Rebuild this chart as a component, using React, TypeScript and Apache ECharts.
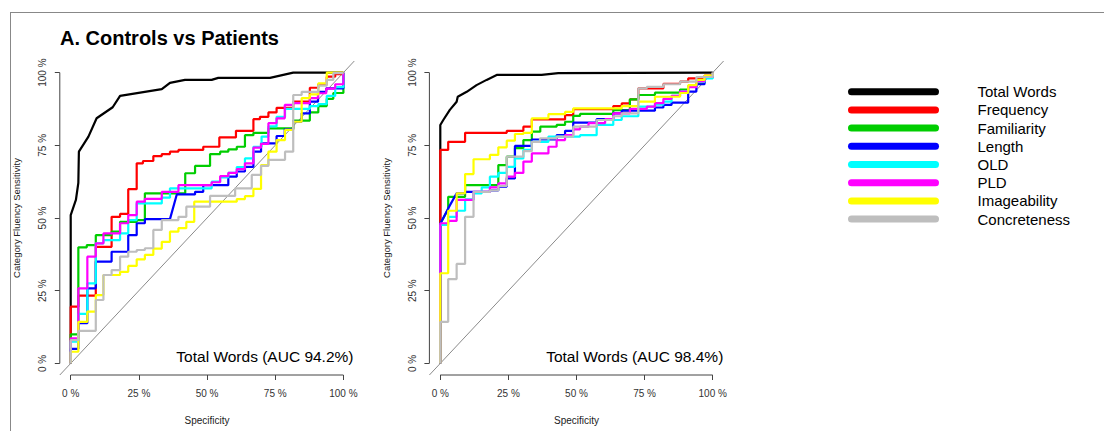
import React, { useEffect, useRef } from "react";
import * as echarts from "echarts";

// ---------- data ----------
const seriesNames = ["Total Words", "Frequency", "Familiarity", "Length", "OLD", "PLD", "Imageability", "Concreteness"];
const seriesColors = ["#000000", "#FF0000", "#00CD00", "#0000FF", "#00FFFF", "#FF00FF", "#FFFF00", "#BEBEBE"];
const tickValues = [0, 25, 50, 75, 100];
const panelAUC = ["Total Words (AUC 94.2%)", "Total Words (AUC 98.4%)"];
const chartTitle = "A. Controls vs Patients";
const xAxisTitle = "Specificity";
const yAxisTitle = "Category Fluency Sensitivity";

// Left panel (x = specificity %, y = sensitivity %)
const leftTotalWords = [[0,0],[0,51],[1.9,56.2],[2.8,62.1],[3,72.8],[6.5,78],[9.5,84.3],[15.4,88.1],[18.1,92],[33.4,94.3],[36.4,96.5],[41.9,97.5],[51.7,97.5],[54.1,98.2],[73.1,98.2],[81.6,100],[100,100]];
const leftFrequency = [[0,0],[0,19.5],[2.8,19.5],[2.8,23.3],[9.2,23.3],[9.2,40.1],[15,40.1],[15,50.4],[18.1,50.4],[18.1,51.4],[21.1,51.4],[21.1,59.9],[24.2,59.9],[24.2,68.8],[26.5,68.8],[26.5,69.6],[30.3,69.6],[30.3,71.3],[33.4,71.3],[33.4,72],[36.4,72],[36.4,72.8],[39.5,72.8],[39.5,73.4],[48.6,73.4],[48.6,74.5],[54.5,74.5],[54.5,77.7],[60.6,77.7],[60.6,80],[67,80],[67,84],[69.4,84],[69.4,84.8],[72.5,84.8],[72.5,86.3],[75.5,86.3],[75.5,87.9],[81.6,87.9],[81.6,90],[87.7,90],[87.7,94.8],[90.8,94.8],[90.8,96],[93.9,96],[93.9,98.6],[97,98.6],[97,99.5],[100,99.5],[100,100]];
const leftFamiliarity = [[0,0],[0,10],[2.8,10],[2.8,39.9],[5.9,39.9],[5.9,40.7],[9.2,40.7],[9.2,44.1],[15,44.1],[15,45.3],[18.1,45.3],[18.1,48.7],[24.2,48.7],[24.2,49.3],[27.2,49.3],[27.2,58.5],[42,58.5],[42,65.4],[45.6,65.4],[45.6,67.9],[51.1,67.9],[51.1,72],[54.8,72],[54.8,72.8],[57.8,72.8],[57.8,73.6],[60.9,73.6],[60.9,74.5],[63.9,74.5],[63.9,78.5],[67,78.5],[67,79.3],[72.5,79.3],[72.5,80.8],[81.6,80.8],[81.6,83.5],[87.7,83.5],[87.7,86.3],[90.8,86.3],[90.8,88.5],[93.9,88.5],[93.9,91],[96.3,91],[96.3,93],[100,93],[100,100]];
const leftLength = [[0,0],[0,5],[2.8,5],[2.8,13.8],[6.1,13.8],[6.1,25.8],[9.2,25.8],[9.2,35],[15,35],[15,38.4],[21.1,38.4],[21.1,44.1],[24.2,44.1],[24.2,48.2],[27.2,48.2],[27.2,49.6],[36.4,49.6],[38.9,58.1],[45.6,58.1],[45.6,59],[48.6,59],[48.6,61.3],[57.8,61.3],[57.8,64.2],[60.9,64.2],[60.9,66],[63.9,66],[63.9,67.6],[67,67.6],[67,72.8],[69.8,72.8],[69.8,75.7],[75.5,75.7],[75.5,78.2],[78.5,78.2],[78.5,80.5],[81.6,80.5],[81.6,83.1],[84.7,83.1],[84.7,86],[87.7,86],[87.7,90],[90.7,90],[90.7,93.4],[93.7,93.4],[93.7,94.6],[100,94.6],[100,100]];
const leftOLD = [[0,0],[0,7.5],[2.8,7.5],[2.8,17],[6.1,17],[6.1,27.5],[9.2,27.5],[9.2,41.3],[12,41.3],[12,42.4],[18.1,42.4],[18.1,44.7],[21.1,44.7],[21.1,49.3],[24.2,49.3],[24.2,55],[33.4,55],[33.4,57],[36.4,57],[36.4,60.2],[51.7,60.2],[51.7,62.5],[54.8,62.5],[54.8,64],[57.8,64],[57.8,65.5],[60.9,65.5],[60.9,67.5],[63.9,67.5],[63.9,70.5],[67,70.5],[67,74.5],[70,74.5],[70,78],[72.5,78],[72.5,81.5],[75.5,81.5],[75.5,84.8],[78.6,84.8],[78.6,87.5],[87.7,87.5],[87.7,88.5],[90.8,88.5],[90.8,89.2],[93.9,89.2],[93.9,92],[97,92],[97,95],[100,95],[100,100]];
const leftPLD = [[0,0],[0,8.6],[2.8,8.6],[2.8,25.8],[6.1,25.8],[6.1,36.7],[9.2,36.7],[9.2,41.3],[12,41.3],[12,44.7],[18.1,44.7],[18.1,48.2],[21.1,48.2],[21.1,51],[24.2,51],[24.2,55.6],[27.2,55.6],[27.2,56.6],[33.4,56.6],[33.4,59],[39.5,59],[39.5,61.3],[51.7,61.3],[51.7,62.3],[54.8,62.3],[54.8,64.4],[57.8,64.4],[57.8,65.5],[60.9,65.5],[60.9,66.8],[63.9,66.8],[63.9,68.8],[67,68.8],[67,74.2],[69.8,74.2],[69.8,75.5],[72.5,75.5],[72.5,82.6],[75.5,82.6],[75.5,84.3],[78.5,84.3],[78.5,88.9],[81.6,88.9],[81.6,89.5],[87.7,89.5],[87.7,91.2],[90.7,91.2],[90.7,92.9],[93.7,92.9],[93.7,94.5],[97,94.5],[97,96],[100,96],[100,100]];
const leftImageability = [[0,0],[0,4],[2.8,4],[2.8,14.3],[6.1,14.3],[6.1,17.8],[9.2,17.8],[9.2,23.5],[12,23.5],[12,30.4],[18.1,30.4],[18.1,31.5],[21.1,31.5],[21.1,33.5],[24.2,33.5],[24.2,35.8],[27.2,35.8],[27.2,37.3],[30.3,37.3],[30.3,39.5],[33.4,39.5],[33.4,41.8],[36.4,41.8],[36.4,45.3],[39.5,45.3],[39.5,46.5],[42.4,46.5],[42.4,48.7],[45.3,48.7],[45.3,55.6],[60.9,55.6],[60.9,56.5],[63.9,56.5],[63.9,57.5],[67,57.5],[67,60],[69.8,60],[69.8,68.2],[72.5,68.2],[72.5,72.8],[75.5,72.8],[75.5,76.8],[78.6,76.8],[78.6,80.3],[81.6,80.3],[81.6,83.1],[84.7,83.1],[84.7,91.2],[87.7,91.2],[87.7,92.5],[90.8,92.5],[90.8,96.3],[93.9,96.3],[93.9,100],[100,100]];
const leftConcreteness = [[0,0],[0,8],[2.8,8],[2.8,11.2],[9.2,11.2],[9.2,21.8],[12,21.8],[12,30.4],[15,30.4],[15,32.1],[18.1,32.1],[18.1,36.7],[21.1,36.7],[21.1,38.4],[24.2,38.4],[24.2,39],[27.2,39],[27.2,39.6],[30.3,39.6],[30.3,45.9],[33.4,45.9],[33.4,49.3],[39.5,49.3],[39.5,50.4],[42.4,50.4],[42.4,53.9],[51.1,53.9],[51.1,57.6],[60.3,57.6],[60.3,60.2],[66.4,60.2],[66.4,64.8],[69.8,64.8],[69.8,67.9],[72.5,67.9],[72.5,70],[78.6,70],[78.6,72.8],[81.6,72.8],[81.6,92.3],[84.7,92.3],[84.7,93.4],[90.8,93.4],[90.8,95.5],[93.9,95.5],[93.9,97.5],[96.3,97.5],[96.3,99.8],[100,99.8],[100,100]];

// Right panel
const rightTotalWords = [[0,0],[0,82],[1.1,83.7],[3.5,87.2],[6,90],[6.4,91.7],[9.7,93.4],[13.3,95.7],[17,97.5],[20.7,99.2],[37.2,99.2],[43.3,99.8],[100,100]];
const rightFrequency = [[0,0],[0,73.4],[2.9,73.4],[2.9,76.2],[9.1,76.2],[9.1,79.3],[24.4,79.3],[24.4,80],[30.5,80],[30.5,81.4],[33.6,81.4],[33.6,83.9],[45.8,83.9],[45.8,85.4],[48.8,85.4],[48.8,87.4],[63.5,87.4],[63.5,88.5],[66.6,88.5],[66.6,89.4],[69.6,89.4],[69.6,90.8],[72.7,90.8],[72.7,94.6],[81.9,94.6],[81.9,96.1],[88,96.1],[88,96.9],[91,96.9],[91,98],[97,98],[97,99],[100,99],[100,100]];
const rightFamiliarity = [[0,0],[0,48],[2.9,53],[2.9,57.3],[9.1,57.3],[9.1,61.3],[21.3,61.3],[21.3,68.2],[24.4,68.2],[24.4,71.1],[27.4,71.1],[27.4,74],[30.5,74],[30.5,76.8],[33.6,76.8],[33.6,79.7],[36.7,79.7],[36.7,81.4],[42.7,81.4],[42.7,82],[45.8,82],[45.8,83.1],[48.8,83.1],[48.8,85.1],[51.3,85.1],[51.3,85.8],[63.5,85.8],[63.5,87.1],[69.6,87.1],[69.6,90.8],[72.7,90.8],[72.7,92.3],[78.8,92.3],[78.8,93.1],[88,93.1],[88,94.2],[91,94.2],[91,95.4],[94.1,95.4],[94.1,96.5],[97,96.5],[97,98.5],[100,98.5],[100,100]];
const rightLength = [[0,0],[0,48],[2.9,53.3],[6,58.5],[9.1,58.5],[9.1,59],[18.2,59],[18.2,59.5],[21.3,59.5],[21.3,60.8],[24.4,60.8],[24.4,63.6],[27.4,63.6],[27.4,74.8],[33.6,74.8],[33.6,77],[42.7,77],[42.7,78.5],[45.8,78.5],[45.8,80],[48.8,80],[48.8,82.8],[57.4,82.8],[57.4,84],[63.5,84],[63.5,86],[66.6,86],[66.6,86.9],[78.8,86.9],[78.8,88],[81.9,88],[81.9,88.9],[84.9,88.9],[84.9,89.7],[91,89.7],[91,93.5],[94,93.5],[94,96],[97,96],[97,98.5],[100,98.5],[100,100]];
const rightOLD = [[0,0],[0,47.6],[2.9,47.6],[2.9,50.4],[6,50.4],[6,52.5],[9.1,52.5],[9.1,56.4],[12.2,56.4],[12.2,58.5],[15.2,58.5],[15.2,60.5],[18.2,60.5],[18.2,64.2],[21.3,64.2],[21.3,65.5],[24.4,65.5],[24.4,67.6],[27.4,67.6],[27.4,70.5],[30.5,70.5],[30.5,73.4],[33.6,73.4],[33.6,76.2],[39.7,76.2],[39.7,78],[51.3,78],[51.3,78.5],[57.4,78.5],[57.4,82],[63.5,82],[63.5,83.7],[66.6,83.7],[66.6,85],[72.7,85],[72.7,88.3],[78.8,88.3],[78.8,89],[81.9,89],[81.9,90],[84.9,90],[84.9,92],[88,92],[88,93.5],[91,93.5],[91,95.1],[94,95.1],[94,96.8],[97,96.8],[97,98],[100,98],[100,100]];
const rightPLD = [[0,0],[0,48.2],[2.9,48.2],[2.9,49],[6,49],[6,56.2],[12.2,56.2],[12.2,59],[18.2,59],[18.2,60.5],[21.3,60.5],[21.3,61.9],[24.4,61.9],[24.4,64.2],[27.4,64.2],[27.4,65.5],[30.5,65.5],[30.5,69.4],[33.6,69.4],[33.6,72.2],[39.7,72.2],[39.7,74.5],[42.7,74.5],[42.7,76.8],[45.8,76.8],[45.8,78.5],[48.8,78.5],[48.8,80.5],[51.3,80.5],[51.3,81.4],[54.4,81.4],[54.4,82.6],[60.5,82.6],[60.5,84],[63.5,84],[63.5,86],[69.6,86],[69.6,87.5],[75.8,87.5],[75.8,88.3],[78.8,88.3],[78.8,89.5],[81.9,89.5],[81.9,91],[84.9,91],[84.9,92],[88,92],[88,93.5],[91,93.5],[91,95],[94,95],[94,97],[97,97],[97,98.5],[100,98.5],[100,100]];
const rightImageability = [[0,0],[0,31],[2.9,31],[2.9,52.5],[6,52.5],[6,58.5],[9.1,58.5],[9.1,65.1],[12.2,65.1],[12.2,70.2],[18.2,70.2],[18.2,71.7],[21.3,71.7],[21.3,74.3],[24.4,74.3],[24.4,76.6],[27.4,76.6],[27.4,78.9],[30.5,78.9],[30.5,79.3],[33.6,79.3],[33.6,84.3],[39.7,84.3],[39.7,85.7],[45.8,85.7],[45.8,86.5],[48.8,86.5],[48.8,87.7],[66.6,87.7],[66.6,88.5],[72.7,88.5],[72.7,90],[78.8,90],[78.8,91.7],[88,91.7],[88,93],[91,93],[91,95.7],[94,95.7],[94,97.5],[97,97.5],[97,99],[100,99],[100,100]];
const rightConcreteness = [[0,0],[0,14.3],[2.9,14.3],[2.9,29],[6,29],[6,34.2],[9.1,34.2],[9.1,50.4],[12.2,50.4],[12.2,59],[18.2,59],[18.2,59.5],[21.3,59.5],[21.3,61],[24.4,61],[24.4,71.1],[30.5,71.1],[30.5,73],[33.6,73],[33.6,76.2],[36.6,76.2],[36.6,77.4],[42.7,77.4],[42.7,78],[48.8,78],[48.8,81.4],[57.4,81.4],[57.4,83.7],[63.5,83.7],[63.5,85],[66.6,85],[66.6,86],[72.7,86],[72.7,94.6],[75.8,94.6],[75.8,95.1],[81.9,95.1],[81.9,96],[88,96],[88,96.9],[94,96.9],[94,98.5],[100,98.5],[100,100]];

const leftCurves = [leftTotalWords, leftFrequency, leftFamiliarity, leftLength, leftOLD, leftPLD, leftImageability, leftConcreteness];
const rightCurves = [rightTotalWords, rightFrequency, rightFamiliarity, rightLength, rightOLD, rightPLD, rightImageability, rightConcreteness];

const FONT = "'Liberation Sans', Arial, Helvetica, sans-serif";
const AXIS_COLOR = "#444";

export default function App() {
  const ref = useRef<HTMLDivElement>(null);

  useEffect(() => {
    if (!ref.current) return;
    const chart = echarts.init(ref.current, null, { renderer: "svg" });

    const grids = [
      { left: 59.8, top: 61, width: 294.5, height: 314 },
      { left: 429.4, top: 61, width: 294.2, height: 314 },
    ];

    const mkX = (i: number) => ({
      type: "value",
      gridIndex: i,
      min: -4,
      max: 104,
      axisLine: { show: false, onZero: false },
      splitLine: { show: false },
      axisTick: { show: true, customValues: tickValues, length: 5, lineStyle: { color: AXIS_COLOR, width: 1 } },
      axisLabel: {
        customValues: tickValues,
        formatter: (v: number) => `${v} %`,
        margin: 13,
        fontSize: 10,
        color: "#333",
        fontFamily: FONT,
      },
      name: xAxisTitle,
      nameLocation: "middle",
      nameGap: 40,
      nameTextStyle: { fontSize: 10, color: "#222", fontFamily: FONT },
    });
    const mkY = (i: number) => ({
      type: "value",
      gridIndex: i,
      min: -4,
      max: 104,
      axisLine: { show: false, onZero: false },
      splitLine: { show: false },
      axisTick: { show: true, customValues: tickValues, length: 5, lineStyle: { color: AXIS_COLOR, width: 1 } },
      axisLabel: {
        customValues: tickValues,
        formatter: (v: number) => `${v} %`,
        rotate: 90,
        margin: 12,
        fontSize: 10,
        color: "#333",
        fontFamily: FONT,
      },
      name: yAxisTitle,
      nameLocation: "middle",
      nameGap: 38,
      nameRotate: 90,
      nameTextStyle: { fontSize: 9.5, color: "#222", fontFamily: FONT },
    });

    const series: any[] = [];
    [0, 1].forEach((p) => {
      series.push({
        type: "line", xAxisIndex: p, yAxisIndex: p, silent: true, clip: false, symbol: "none",
        data: [[tickValues[0], -4], [tickValues[tickValues.length - 1], -4]],
        lineStyle: { color: AXIS_COLOR, width: 1 },
      });
      series.push({
        type: "line", xAxisIndex: p, yAxisIndex: p, silent: true, clip: false, symbol: "none",
        data: [[-4, tickValues[0]], [-4, tickValues[tickValues.length - 1]]],
        lineStyle: { color: AXIS_COLOR, width: 1 },
      });
      series.push({
        type: "line", xAxisIndex: p, yAxisIndex: p, silent: true, clip: false, symbol: "none",
        data: [[-4, -4], [104, 104]],
        lineStyle: { color: "#8a8a8a", width: 1 },
      });
      const curves = p === 0 ? leftCurves : rightCurves;
      curves.forEach((c, k) => {
        series.push({
          name: seriesNames[k],
          type: "line",
          xAxisIndex: p,
          yAxisIndex: p,
          symbol: "none",
          data: c,
          lineStyle: { color: seriesColors[k], width: 2.2 },
          itemStyle: { color: seriesColors[k] },
        });
      });
    });

    const graphic: any[] = [
      { type: "line", shape: { x1: 10, y1: 12.5, x2: 1104, y2: 12.5 }, style: { stroke: "#888", lineWidth: 1 } },
      { type: "line", shape: { x1: 10.5, y1: 12, x2: 10.5, y2: 431 }, style: { stroke: "#888", lineWidth: 1 } },
      {
        type: "text", x: 60, y: 38,
        style: { text: chartTitle, font: `bold 20px ${FONT}`, fill: "#000", textVerticalAlign: "middle" },
      },
      {
        type: "text", x: 353.5, y: 356,
        style: { text: panelAUC[0], font: `15.5px ${FONT}`, fill: "#000", textAlign: "right", textVerticalAlign: "middle" },
      },
      {
        type: "text", x: 723.3, y: 356,
        style: { text: panelAUC[1], font: `15.5px ${FONT}`, fill: "#000", textAlign: "right", textVerticalAlign: "middle" },
      },
    ];
    seriesNames.forEach((n, k) => {
      const y = 91.7 + k * 18.2;
      graphic.push({
        type: "line",
        shape: { x1: 851.5, y1: y, x2: 935.5, y2: y },
        style: { stroke: seriesColors[k], lineWidth: 7, lineCap: "round" },
      });
      graphic.push({
        type: "text", x: 977.5, y: y,
        style: { text: n, font: `15px ${FONT}`, fill: "#000", textVerticalAlign: "middle" },
      });
    });

    chart.setOption({
      animation: false,
      backgroundColor: "#fff",
      textStyle: { fontFamily: FONT },
      grid: grids,
      xAxis: [mkX(0), mkX(1)],
      yAxis: [mkY(0), mkY(1)],
      series,
      graphic,
    });

    return () => chart.dispose();
  }, []);

  return (
    <div
      ref={ref}
      style={{ position: "fixed", left: 0, top: 0, width: 1104, height: 431, background: "#fff" }}
    />
  );
}
